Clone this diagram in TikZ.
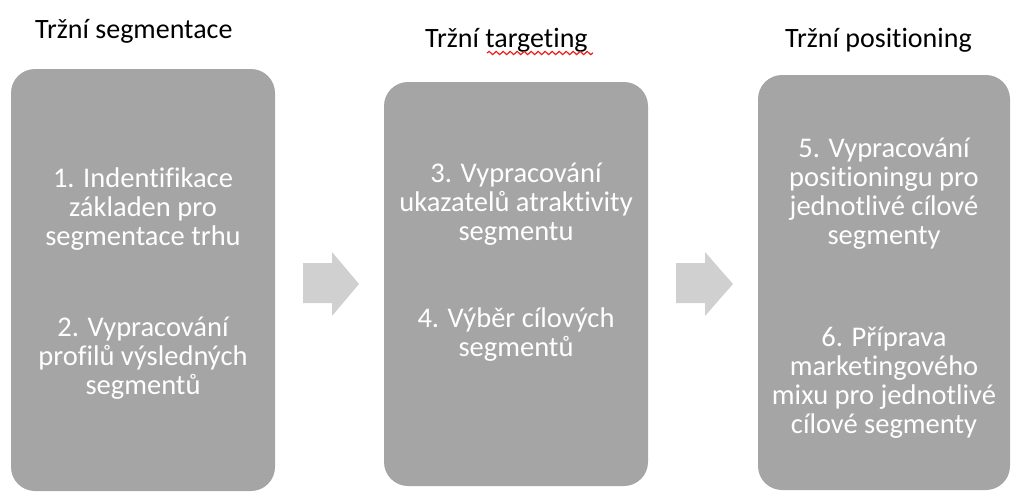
\documentclass[tikz,border=0pt]{standalone}
\usepackage{fontspec}
\setmainfont{Carlito}[Ligatures=NoCommon]
\usetikzlibrary{decorations.pathmorphing}
\definecolor{boxgray}{HTML}{A5A5A5}
\definecolor{arrgray}{HTML}{D0D0D0}
\definecolor{spellred}{HTML}{E8201A}
\tikzset{
  stagebox/.style={draw=none, fill=boxgray, rounded corners=24pt, inner sep=0pt},
  heading/.style={anchor=base west, inner sep=0pt, text=black, font=\fontsize{28}{30}\selectfont},
  boxtext/.style={anchor=base, inner sep=0pt, align=center, text=white, font=\fontsize{28.5}{29}\selectfont},
  blockarrow/.style={fill=arrgray, draw=none}
}
\begin{document}
\begin{tikzpicture}[x=1pt, y=-1pt]
\useasboundingbox (0,0) rectangle (1012,493);
% boxes
\path[stagebox] (11,69) rectangle (275,491);
\path[stagebox] (384,82) rectangle (648,486);
\path[stagebox] (758,75) rectangle (1010,490);
% headings
\node[heading] (h1) at (35,38) {Tržní segmentace};
\node[heading] (h2) at (425,47) {Tržní targeting};
\node[heading] (h3) at (785,47) {Tržní positioning};
\draw[spellred, line width=1.2pt, decorate, decoration={snake, segment length=7pt, amplitude=1.6pt}] (487,53) -- (593,53);
% box texts (anchor = baseline of last line)
\node[boxtext] (t1) at (143,245) {1. Indentifikace\\základen pro\\segmentace trhu};
\node[boxtext] (t2) at (143,394) {2. Vypracování\\profilů výsledných\\segmentů};
\node[boxtext] (t3) at (516,240) {3. Vypracování\\ukazatelů atraktivity\\segmentu};
\node[boxtext] (t4) at (516,356) {4. Výběr cílových\\segmentů};
\node[boxtext] (t5) at (884,244) {5. Vypracování\\positioningu pro\\jednotlivé cílové\\segmenty};
\node[boxtext] (t6) at (884,433) {6. Příprava\\marketingového\\mixu pro jednotlivé\\cílové segmenty};
% block arrows
\path[blockarrow] (303,263) -- (332,263) -- (332,252) -- (359,284) -- (332,316) -- (332,303) -- (303,303) -- cycle;
\path[blockarrow] (676,263) -- (705,263) -- (705,252) -- (733,284) -- (705,316) -- (705,303) -- (676,303) -- cycle;
\end{tikzpicture}
\end{document}
